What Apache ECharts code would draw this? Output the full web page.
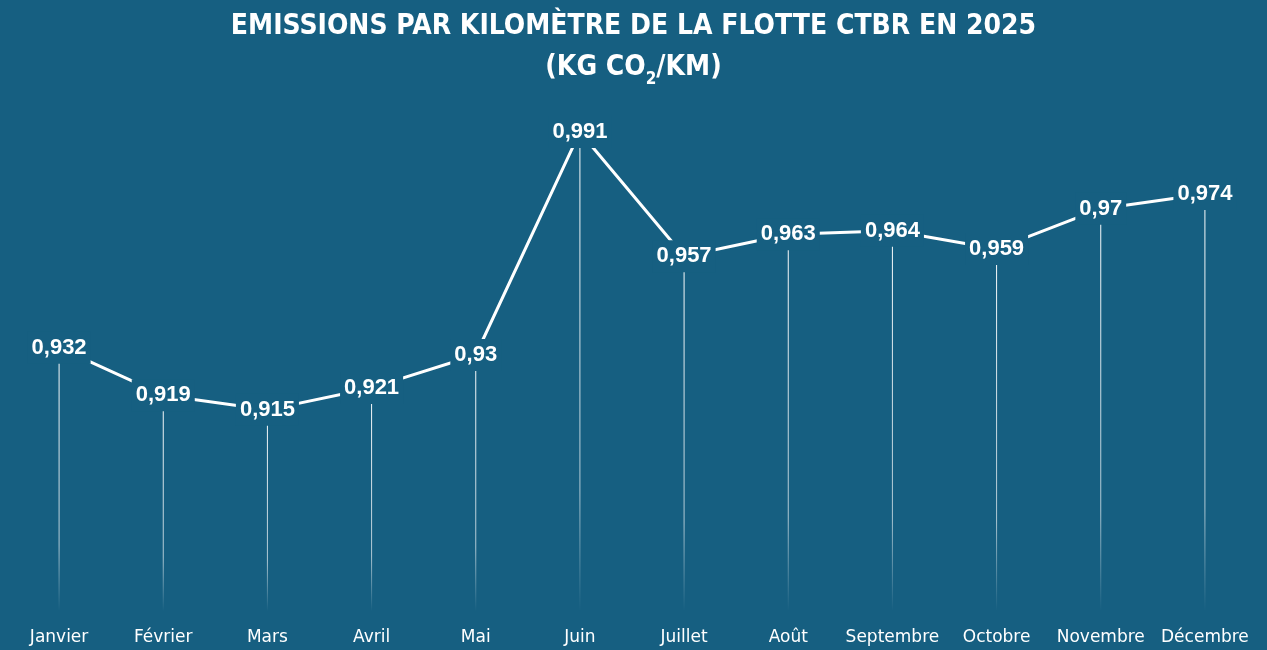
<!DOCTYPE html>
<html>
<head>
<meta charset="utf-8">
<script src="https://cdn.jsdelivr.net/npm/echarts@6/dist/echarts.min.js"></script>
<style>
  html, body { margin: 0; padding: 0; background: #165f81; }
  #chart { width: 1267px; height: 650px; }
</style>
</head>
<body>
<div id="chart"></div>
<script>
var months = ['Janvier', 'Février', 'Mars', 'Avril', 'Mai', 'Juin', 'Juillet', 'Août', 'Septembre', 'Octobre', 'Novembre', 'Décembre'];
var emissions = [0.932, 0.919, 0.915, 0.921, 0.93, 0.991, 0.957, 0.963, 0.964, 0.959, 0.97, 0.974];

var bg = '#165f81';
var yMin = 0.86, yMax = 1.0;

var chart = echarts.init(document.getElementById('chart'));

var option = {
    backgroundColor: bg,
    animation: false,
    title: {
        left: 'center',
        top: 1,
        text: '{a|EMISSIONS PAR KILOMÈTRE DE LA FLOTTE CTBR EN 2025}\n{a|(KG CO}{s|2}{a|/KM)}',
        textStyle: {
            rich: {
                a: {
                    color: '#fff',
                    fontFamily: 'DejaVu Sans Condensed',
                    fontWeight: 'bold',
                    fontSize: 28,
                    lineHeight: 41,
                    verticalAlign: 'middle'
                },
                s: {
                    color: '#fff',
                    fontFamily: 'DejaVu Sans Condensed',
                    fontWeight: 'bold',
                    fontSize: 17,
                    lineHeight: 22,
                    verticalAlign: 'bottom'
                }
            }
        }
    },
    grid: {
        left: 7,
        right: 10,
        top: 99,
        bottom: 39
    },
    xAxis: {
        type: 'category',
        data: months,
        axisLine: { show: false },
        axisTick: { show: false },
        axisLabel: {
            interval: 0,
            color: '#fff',
            fontFamily: 'DejaVu Sans',
            fontSize: 17,
            margin: 18
        }
    },
    yAxis: {
        type: 'value',
        min: yMin,
        max: yMax,
        show: false,
        splitLine: { show: false }
    },
    series: [
        {
            // lignes verticales qui s'estompent vers le bas
            type: 'custom',
            z: 1,
            data: emissions,
            renderItem: function (params, api) {
                var top = api.coord([api.value(0), api.value(1)]);
                var bottom = api.coord([api.value(0), yMin]);
                return {
                    type: 'line',
                    shape: { x1: top[0], y1: top[1], x2: bottom[0], y2: bottom[1] },
                    style: {
                        lineWidth: 1,
                        stroke: {
                            type: 'linear',
                            x: 0, y: top[1], x2: 0, y2: bottom[1],
                            global: true,
                            colorStops: [
                                { offset: 0, color: 'rgba(255,255,255,1)' },
                                { offset: 0.75, color: 'rgba(255,255,255,0.65)' },
                                { offset: 1, color: 'rgba(255,255,255,0)' }
                            ]
                        }
                    }
                };
            },
            encode: { x: 0, y: 1 }
        },
        {
            type: 'line',
            z: 3,
            data: emissions,
            symbol: 'circle',
            symbolSize: 1,
            itemStyle: { color: '#fff' },
            lineStyle: { color: '#fff', width: 3 },
            label: {
                show: true,
                position: 'inside',
                color: '#fff',
                fontFamily: 'Liberation Sans',
                fontWeight: 'bold',
                fontSize: 22,
                backgroundColor: bg,
                padding: [5, 4, 5, 4],
                formatter: function (p) {
                    return String(p.value).replace('.', ',');
                }
            }
        }
    ]
};

chart.setOption(option);
</script>
</body>
</html>
